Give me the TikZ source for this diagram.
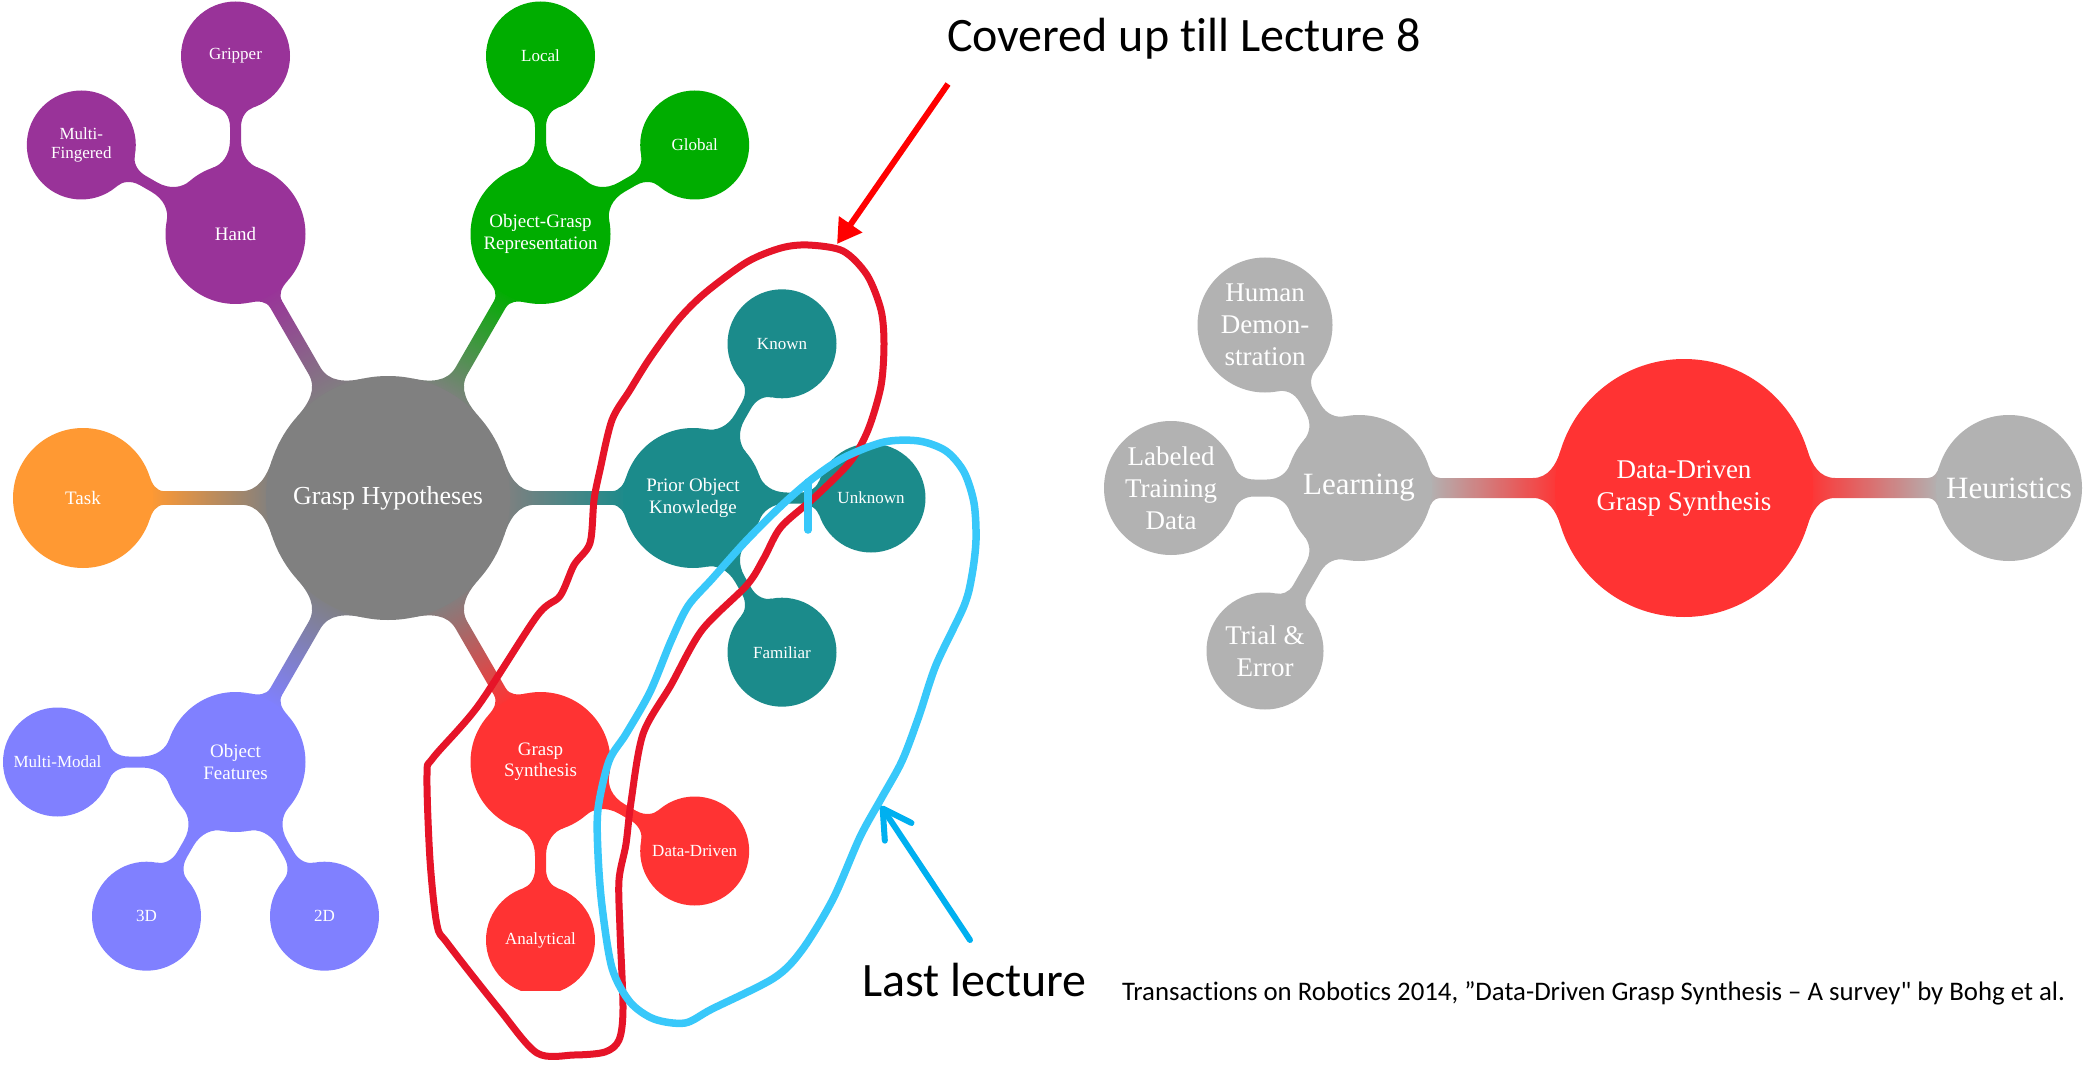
\documentclass[tikz,border=0pt]{standalone}
\usepackage{fontspec}
\usetikzlibrary{arrows.meta}
\newfontfamily\mmfont{Liberation Serif}
\newfontfamily\annofont[Ligatures={NoCommon}]{Carlito}
\definecolor{cgray}{RGB}{128,128,128}
\definecolor{cpurple}{RGB}{153,51,153}
\definecolor{cgreen}{RGB}{0,173,0}
\definecolor{cteal}{RGB}{27,139,139}
\definecolor{corange}{RGB}{255,153,51}
\definecolor{cperi}{RGB}{128,128,255}
\definecolor{cred}{RGB}{255,51,51}
\definecolor{clgray}{RGB}{178,178,178}
\definecolor{loopred}{RGB}{230,20,40}
\definecolor{loopblue}{RGB}{56,200,250}
\definecolor{arrowred}{RGB}{255,0,0}
\definecolor{arrowblue}{RGB}{0,176,240}
\pgfdeclarelayer{paper}
\pgfdeclarelayer{conn}
\pgfsetlayers{paper,conn,main}
\newdimen\mmxa \newdimen\mmya \newdimen\mmxb \newdimen\mmyb \newdimen\mmea \newdimen\mmeb
\def\mmphi{18}
\def\mmk{1.0}
% metaball-like connector between two named circle nodes
\newcommand\mmconn[5][6.8]{%
  \pgfextractx{\mmxa}{\pgfpointanchor{#2}{center}}%
  \pgfextracty{\mmya}{\pgfpointanchor{#2}{center}}%
  \pgfextractx{\mmxb}{\pgfpointanchor{#3}{center}}%
  \pgfextracty{\mmyb}{\pgfpointanchor{#3}{center}}%
  \pgfextractx{\mmea}{\pgfpointanchor{#2}{east}}%
  \pgfextractx{\mmeb}{\pgfpointanchor{#3}{east}}%
  \pgfmathsetmacro\mmang{atan2(\mmyb-\mmya,\mmxb-\mmxa)}%
  \pgfmathsetmacro\mmd{veclen(\mmxb-\mmxa,\mmyb-\mmya)}%
  \pgfmathsetmacro\mmra{\mmea-\mmxa}%
  \pgfmathsetmacro\mmrb{\mmeb-\mmxb}%
  \pgfmathsetmacro\mmw{#1}%
  \pgfmathsetmacro\mmmid{(\mmra+\mmd-\mmrb)/2}%
  \pgfmathsetmacro\mmAx{\mmra*cos(\mmphi)}%
  \pgfmathsetmacro\mmAy{\mmra*sin(\mmphi)}%
  \pgfmathsetmacro\mmBx{\mmd-\mmrb*cos(\mmphi)}%
  \pgfmathsetmacro\mmBy{\mmrb*sin(\mmphi)}%
  \pgfmathsetmacro\mmdA{\mmAy-\mmw}%
  \pgfmathsetmacro\mmdB{\mmBy-\mmw}%
  \pgfmathsetmacro\mmQa{min(\mmAx+\mmk*\mmdA,\mmmid)}%
  \pgfmathsetmacro\mmQb{max(\mmBx-\mmk*\mmdB,\mmmid)}%
  \pgfmathsetmacro\mmCax{\mmAx+0.55*\mmdA*sin(\mmphi)}%
  \pgfmathsetmacro\mmCay{\mmAy-0.55*\mmdA*cos(\mmphi)}%
  \pgfmathsetmacro\mmCbx{\mmBx-0.55*\mmdB*sin(\mmphi)}%
  \pgfmathsetmacro\mmCby{\mmBy-0.55*\mmdB*cos(\mmphi)}%
  \pgfmathsetmacro\mmDa{\mmQa-0.55*(\mmQa-\mmAx)}%
  \pgfmathsetmacro\mmDb{\mmQb+0.55*(\mmBx-\mmQb)}%
  \edef\mmsx{\the\mmxa}\edef\mmsy{\the\mmya}%
  \begin{scope}[transform canvas={shift={(\mmsx,\mmsy)},rotate=\mmang}]
    \shade[left color=#4,right color=#5]
      (\mmAx pt,\mmAy pt) .. controls (\mmCax pt,\mmCay pt) and (\mmDa pt,\mmw pt) .. (\mmQa pt,\mmw pt)
      -- (\mmQb pt,\mmw pt) .. controls (\mmDb pt,\mmw pt) and (\mmCbx pt,\mmCby pt) .. (\mmBx pt,\mmBy pt)
      -- (\mmBx pt,-\mmBy pt) .. controls (\mmCbx pt,-\mmCby pt) and (\mmDb pt,-\mmw pt) .. (\mmQb pt,-\mmw pt)
      -- (\mmQa pt,-\mmw pt) .. controls (\mmDa pt,-\mmw pt) and (\mmCax pt,-\mmCay pt) .. (\mmAx pt,-\mmAy pt)
      -- cycle;
  \end{scope}}
\tikzset{
  mm/.style={circle, inner sep=0pt, outer sep=0pt, text=white, align=center},
  lvzero/.style={mm, fill=cgray, minimum size=244pt, font=\mmfont\fontsize{26}{30}\selectfont},
  lvone/.style={mm, minimum size=140pt, font=\mmfont\fontsize{19}{21.5}\selectfont},
  lvtwo/.style={mm, minimum size=109pt, font=\mmfont\fontsize{17}{19}\selectfont},
  rroot/.style={mm, fill=cred, minimum size=258pt, font=\mmfont\fontsize{27}{32}\selectfont},
  rmid/.style={mm, fill=clgray, minimum size=146pt, font=\mmfont\fontsize{31}{36}\selectfont},
  rleaf/.style={mm, fill=clgray, font=\mmfont\fontsize{27}{32}\selectfont},
  anno/.style={inner sep=0pt, outer sep=0pt, text=black, font=\annofont\fontsize{48}{56}\selectfont},
  capt/.style={inner sep=0pt, outer sep=0pt, text=black, font=\annofont\fontsize{26.8}{30}\selectfont},
  redloop/.style={draw=loopred, line width=7pt, line join=round},
  blueloop/.style={draw=loopblue, line width=7.5pt, line join=round, line cap=round}
}
\begin{document}
\begin{tikzpicture}[x=1pt,y=-1pt]
\begin{pgfonlayer}{paper}
  \path[fill=white] (0,0) rectangle (2083,1067);
\end{pgfonlayer}
\useasboundingbox (0,0) rectangle (2083,1067);

% ---------- left mind map ----------
\node[lvzero] (root) at (388,498) {Grasp Hypotheses};
\node[lvone, fill=corange] (task) at (83,498) {Task};
\node[lvone, fill=cpurple] (hand) at (235.5,234) {Hand};
\node[lvone, fill=cgreen] (ogr) at (540.5,234) {Object-Grasp\\Representation};
\node[lvone, fill=cteal] (pok) at (693,498) {Prior Object\\Knowledge};
\node[lvone, fill=cperi] (of) at (235.5,762) {Object\\Features};
\node[lvone, fill=cred] (gs) at (540.5,762) {Grasp\\Synthesis};
\node[lvtwo, fill=cpurple] (gripper) at (235.5,56) {Gripper};
\node[lvtwo, fill=cpurple] (multif) at (81.3,145) {Multi-\\Fingered};
\node[lvtwo, fill=cgreen] (local) at (540.5,56) {Local};
\node[lvtwo, fill=cgreen] (global) at (694.7,145) {Global};
\node[lvtwo, fill=cteal] (known) at (782,343.8) {Known};
\node[lvtwo, fill=cteal] (unknown) at (871,498) {Unknown};
\node[lvtwo, fill=cteal] (familiar) at (782,652.2) {Familiar};
\node[lvtwo, fill=cperi] (multimodal) at (57.5,762) {Multi-Modal};
\node[lvtwo, fill=cperi] (threed) at (146.5,916.2) {3D};
\node[lvtwo, fill=cperi] (twod) at (324.5,916.2) {2D};
\node[lvtwo, fill=cred] (datadriven) at (694.7,851) {Data-Driven};
\begin{scope}
  \clip (0,0) rectangle (2083,990);
  \node[lvtwo, fill=cred] (analytical) at (540.5,940) {Analytical};
\end{scope}

% ---------- right mind map ----------
\node[rroot] (ddgs) at (1684,488) {Data-Driven\\Grasp Synthesis};
\node[rmid] (learning) at (1359,488) {Learning};
\node[rmid] (heur) at (2009,488) {Heuristics};
\node[rleaf, minimum size=135pt] (human) at (1265,325) {Human\\Demon-\\stration};
\node[rleaf, minimum size=134pt] (labeled) at (1171,488) {Labeled\\Training\\Data};
\node[rleaf, minimum size=117pt] (trial) at (1265,651) {Trial \&\\Error};

% ---------- connectors ----------
\begin{pgfonlayer}{conn}
  \mmconn{root}{task}{cgray}{corange}
  \mmconn{root}{hand}{cgray}{cpurple}
  \mmconn{root}{ogr}{cgray}{cgreen}
  \mmconn{root}{pok}{cgray}{cteal}
  \mmconn{root}{of}{cgray}{cperi}
  \mmconn{root}{gs}{cgray}{cred}
  \def\mmk{1.6}\def\mmphi{19}
  \mmconn[5.5]{hand}{gripper}{cpurple}{cpurple}
  \mmconn[5.5]{hand}{multif}{cpurple}{cpurple}
  \mmconn[5.5]{ogr}{local}{cgreen}{cgreen}
  \mmconn[5.5]{ogr}{global}{cgreen}{cgreen}
  \mmconn[5.5]{pok}{known}{cteal}{cteal}
  \mmconn[5.5]{pok}{unknown}{cteal}{cteal}
  \mmconn[5.5]{pok}{familiar}{cteal}{cteal}
  \mmconn[5.5]{of}{multimodal}{cperi}{cperi}
  \mmconn[5.5]{of}{threed}{cperi}{cperi}
  \mmconn[5.5]{of}{twod}{cperi}{cperi}
  \mmconn[5.5]{gs}{datadriven}{cred}{cred}
  \mmconn[5.5]{gs}{analytical}{cred}{cred}
  \def\mmk{1.0}\def\mmphi{17}
  \mmconn[10]{ddgs}{learning}{cred}{clgray}
  \mmconn[10]{ddgs}{heur}{cred}{clgray}
  \def\mmk{1.5}\def\mmphi{19}
  \mmconn[8.5]{learning}{human}{clgray}{clgray}
  \mmconn[8.5]{learning}{labeled}{clgray}{clgray}
  \mmconn[8.5]{learning}{trial}{clgray}{clgray}
\end{pgfonlayer}

% ---------- hand-drawn loops ----------
\draw[redloop] plot[smooth cycle, tension=0.5] coordinates {
  (808,245) (843,251) (867,275) (881,310) (884,344) (881,386) (868,430) (850,462)
  (815,497) (781,527) (764,558) (747,585) (702,630) (671,685) (643,734) (631,802)
  (626,844) (619,880) (620,930) (623,1009) (619,1040) (605,1052) (574,1055) (537,1053)
  (499,1009) (448,944) (437,925) (430,860) (427,775) (433,758) (478,706) (537,616)
  (560,596) (574,565) (590,543) (594,500) (600,470) (612,420) (630,390) (650,358)
  (678,320) (705,293) (747,262) (781,248)};
\draw[blueloop] plot[smooth cycle, tension=0.5] coordinates {
  (746,541) (781,506) (812,479) (843,458) (884,442) (919,441) (946,451) (964,472)
  (974,503) (976,540) (972,575) (964,606) (936,665) (919,716) (902,761) (881,799)
  (860,837) (833,899) (802,950) (774,978) (712,1009) (685,1023) (654,1019) (630,1002)
  (612,968) (602,906) (598,854) (598,809) (609,761) (626,734) (650,692) (671,641)
  (688,606) (712,579)};
\draw[blueloop] (808,530) -- (808,482);

% ---------- annotations ----------
\node[anno, anchor=base west] (covered) at (947,52) {Covered up till Lecture 8};
\node[anno, anchor=base west] (lastlec) at (862,996) {Last lecture};
\node[capt, anchor=west] (caption) at (1122,993) {Transactions on Robotics 2014, ”Data-Driven Grasp Synthesis – A survey" by Bohg et al.};
\coordinate (redtail) at (948,84);
\coordinate (redtip) at (837,244);
\draw[arrowred, line width=6pt, -{Triangle[length=24pt,width=27pt]}] (redtail) -- (redtip);
\coordinate (bluetail) at (970,940);
\coordinate (bluetip) at (881,806);
\draw[arrowblue, line width=6pt, line cap=round, -{Straight Barb[length=28pt,width=32pt,round]}] (bluetail) -- (bluetip);
\end{tikzpicture}
\end{document}
